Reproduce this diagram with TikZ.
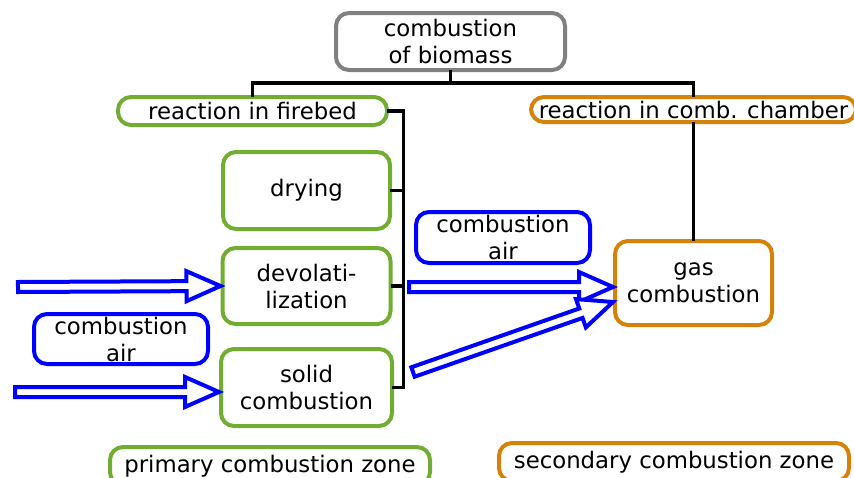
\documentclass[tikz,border=0pt]{standalone}
\usepackage{fontspec}
\setmainfont{DejaVu Sans}
\usetikzlibrary{calc, positioning}

\definecolor{firegreen}{RGB}{112,173,48}
\definecolor{chamberorange}{RGB}{214,130,10}
\definecolor{topgray}{RGB}{128,128,128}

% hollow air arrow from #1 to #2
\newcommand{\airarrow}[2]{%
  \coordinate (head) at ($(#2)!34pt!(#1)$);
  \draw[airline] ($(#1)!5pt!90:(#2)$) -- ($(head)!5pt!90:(#2)$)
    -- ($(head)!15pt!90:(#2)$) -- (#2) -- ($(head)!15pt!-90:(#2)$)
    -- ($(head)!5pt!-90:(#2)$) -- ($(#1)!5pt!-90:(#2)$) -- cycle;}

\begin{document}
\begin{tikzpicture}[x=1pt, y=1pt,
  every node/.style={rounded corners=13pt, line width=4pt, outer sep=0pt, inner sep=2pt,
    align=center, font=\fontsize{22.8}{27}\selectfont},
  fire/.style={draw=firegreen},
  chamber/.style={draw=chamberorange},
  air/.style={draw=blue},
  tree/.style={line width=3.5pt},
  airline/.style={draw=blue, line width=4pt, fill=white, line join=miter}]

  \useasboundingbox (0,0) rectangle (854,-477);

  % Nodes
  \node (top) [draw=topgray, minimum width=229pt, minimum height=57pt] at (450.5,-41.5) {combustion\\of biomass};
  \node (firebed) [fire, minimum width=269pt, minimum height=28pt] at (252.5,-111) {reaction in firebed};
  \node (chamber) [chamber, minimum width=325pt, minimum height=25pt] at (693.5,-109.5) {reaction in comb. chamber};
  \node (drying) [fire, minimum width=167pt, minimum height=77pt] at (306.5,-190.5) {drying};
  \node (devol) [fire, minimum width=168pt, minimum height=76pt, below=19pt of drying] {devolati-\\lization};
  \node (solid) [fire, minimum width=171pt, minimum height=77pt, below=25pt of devol] {solid\\combustion};
  \node (airleft) [air, minimum width=174pt, minimum height=50pt] at (121,-339) {combustion\\air};
  \node (airmid) [air, minimum width=174pt, minimum height=51pt] at (503,-237.5) {combustion\\air};
  \node (gas) [chamber, minimum width=157pt, minimum height=84pt] at (693.5,-283) {gas\\combustion};
  \node (primary) [fire, minimum width=320pt, minimum height=38pt] at (270,-466) {primary combustion zone};
  \node (secondary) [chamber, minimum width=350pt, minimum height=38pt] at (674,-462) {secondary combustion zone};

  % Tree
  \draw[tree] (top.south) -- ++(0,-13) -| (firebed.north);
  \draw[tree] (top.south) -- ++(0,-13) -| (chamber.north);
  \draw[tree] (chamber.south) -- (gas.north);
  \draw[tree] (firebed.east) -- ++(16.5,0) coordinate (bracket) |- (solid.east);
  \draw[tree] (drying.east) -- (drying.east -| bracket);
  \draw[tree] (devol.east) -- (devol.east -| bracket);

  % Air arrows
  \coordinate (airtail1) at (18,-287);
  \coordinate (airtail2) at (15,-392);
  \coordinate (midtail) at (409,-287);
  \coordinate (diagtail) at (413,-372);
  \coordinate (devolin) at ([xshift=-2pt]devol.west);
  \coordinate (solidin) at ([shift={(-2pt,-4.5pt)}]solid.west);
  \coordinate (gasin1) at ([shift={(-2pt,-4pt)}]gas.west);
  \coordinate (gasin2) at ([shift={(-2pt,-19pt)}]gas.west);
  \airarrow{airtail1}{devolin}
  \airarrow{airtail2}{solidin}
  \airarrow{midtail}{gasin1}
  \airarrow{diagtail}{gasin2}

\end{tikzpicture}
\end{document}
